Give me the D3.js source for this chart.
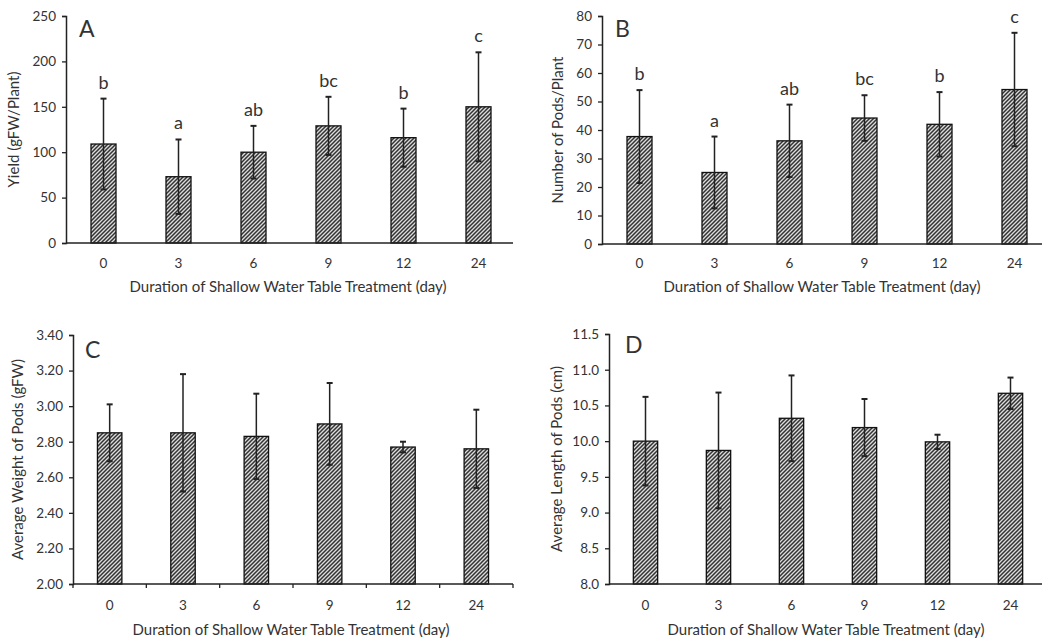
<!DOCTYPE html>
<html><head><meta charset="utf-8">
<script src="https://cdn.jsdelivr.net/npm/d3@7/dist/d3.min.js"></script>
<style>
body{margin:0;background:#fff;}
svg text{font-family:Lato,"Open Sans",sans-serif;fill:#333;}
</style></head>
<body>
<svg id="chart" width="1042" height="640"></svg>
<script>
// ---- data ----
const categories = ["0","3","6","9","12","24"];
const xTitle = "Duration of Shallow Water Table Treatment (day)";

const yieldMean = [109, 73, 100, 129, 116, 150];
const yieldErr  = [50, 41, 29, 32, 32, 60];
const yieldLetters = ["b","a","ab","bc","b","c"];
const yieldTicks = [0, 50, 100, 150, 200, 250];

const podsMean = [37.7, 25.1, 36.2, 44.2, 42.0, 54.2];
const podsErr  = [16.3, 12.6, 12.7, 8.0, 11.3, 19.9];
const podsLetters = ["b","a","ab","bc","b","c"];
const podsTicks = [0, 10, 20, 30, 40, 50, 60, 70, 80];

const weightMean = [2.85, 2.85, 2.83, 2.90, 2.77, 2.76];
const weightErr  = [0.16, 0.33, 0.24, 0.23, 0.03, 0.22];
const weightTicks = [2.00, 2.20, 2.40, 2.60, 2.80, 3.00, 3.20, 3.40];

const lengthMean = [10.00, 9.87, 10.32, 10.19, 9.99, 10.67];
const lengthErr  = [0.62, 0.81, 0.60, 0.40, 0.10, 0.22];
const lengthTicks = [8.0, 8.5, 9.0, 9.5, 10.0, 10.5, 11.0, 11.5];

// ---- layout ----
const panels = [
  {label:"A", mean:yieldMean, err:yieldErr, letters:yieldLetters, ticks:yieldTicks, fmt:d3.format("d"),
   yTitle:"Yield (gFW/Plant)", x0:66, x1:516, axisEnd:513, yTop:16, yBot:243, xTicks:false,
   labX:79, labY:37, yTitleX:14, xLabelY:268, xTitleY:292, xTitleCx:288},
  {label:"B", mean:podsMean, err:podsErr, letters:podsLetters, ticks:podsTicks, fmt:d3.format("d"),
   yTitle:"Number of Pods/Plant", x0:602, x1:1052, axisEnd:1042, yTop:16, yBot:244, xTicks:false,
   labX:615, labY:37, yTitleX:558, xLabelY:268, xTitleY:292, xTitleCx:822},
  {label:"C", mean:weightMean, err:weightErr, letters:null, ticks:weightTicks, fmt:d3.format(".2f"),
   yTitle:"Average Weight of Pods (gFW)", x0:73, x1:513, axisEnd:513, yTop:335, yBot:584, xTicks:true,
   labX:85, labY:358, yTitleX:18, xLabelY:610, xTitleY:635, xTitleCx:291},
  {label:"D", mean:lengthMean, err:lengthErr, letters:null, ticks:lengthTicks, fmt:d3.format(".1f"),
   yTitle:"Average Length of Pods (cm)", x0:609, x1:1047, axisEnd:1042, yTop:334, yBot:584, xTicks:false,
   labX:625, labY:353, yTitleX:557, xLabelY:610, xTitleY:635, xTitleCx:826}
];

const svg = d3.select("#chart");
const defs = svg.append("defs");
const pat = defs.append("pattern").attr("id","hatch").attr("patternUnits","userSpaceOnUse")
  .attr("width",4).attr("height",4);
pat.append("rect").attr("width",4).attr("height",4).attr("fill","#dcdcdc");
pat.append("path").attr("d","M-1,1 l2,-2 M0,4 l4,-4 M3,5 l2,-2")
  .attr("stroke","#333").attr("stroke-width",1.5);

panels.forEach(p => {
  const g = svg.append("g");
  const band = d3.scaleBand().domain(categories).range([p.x0, p.x1]);
  const y = d3.scaleLinear().domain([p.ticks[0], p.ticks[p.ticks.length-1]]).range([p.yBot, p.yTop]);

  // bars
  g.selectAll("rect.bar").data(p.mean).join("rect").attr("class","bar")
    .attr("x",(d,i)=>band(categories[i]) + band.bandwidth()/3)
    .attr("width", band.bandwidth()/3)
    .attr("y", d=>y(d)).attr("height", d=>y(p.ticks[0]) - y(d))
    .attr("fill","url(#hatch)").attr("stroke","#111").attr("stroke-width",1.3);

  // error bars
  const cx = i => band(categories[i]) + band.bandwidth()/2;
  p.mean.forEach((m,i) => {
    const top = y(m + p.err[i]), bot = y(m - p.err[i]);
    g.append("line").attr("x1",cx(i)).attr("x2",cx(i)).attr("y1",top).attr("y2",bot)
      .attr("stroke","#222").attr("stroke-width",1.5);
    g.append("line").attr("x1",cx(i)-3).attr("x2",cx(i)+3).attr("y1",top).attr("y2",top)
      .attr("stroke","#222").attr("stroke-width",2);
    g.append("line").attr("x1",cx(i)-3).attr("x2",cx(i)+3).attr("y1",bot).attr("y2",bot)
      .attr("stroke","#222").attr("stroke-width",2);
    if (p.letters) {
      g.append("text").attr("x",cx(i)).attr("y",top-10).attr("text-anchor","middle")
        .style("font-size","18px").text(p.letters[i]);
    }
  });

  // y axis
  const ya = g.append("g").attr("transform",`translate(${p.x0},0)`)
    .call(d3.axisLeft(y).tickValues(p.ticks).tickFormat(p.fmt).tickSizeInner(4).tickSizeOuter(4).tickPadding(6));
  ya.select(".domain").attr("stroke","#222").attr("stroke-width",1.5);
  ya.selectAll(".tick line").attr("stroke","#222").attr("stroke-width",1.3);
  ya.selectAll(".tick text").style("font-size","13.5px").attr("fill","#333").style("font-family","Lato");

  // x axis line
  g.append("line").attr("x1",p.x0).attr("x2",p.axisEnd).attr("y1",p.yBot).attr("y2",p.yBot)
    .attr("stroke","#222").attr("stroke-width",1.5);
  if (p.xTicks) {
    const bounds = categories.map(c=>band(c)).concat([p.x1]);
    g.selectAll("line.xt").data(bounds).join("line").attr("class","xt")
      .attr("x1",d=>d).attr("x2",d=>d).attr("y1",p.yBot).attr("y2",p.yBot+4)
      .attr("stroke","#222").attr("stroke-width",1.3);
  }
  // x labels
  g.selectAll("text.xl").data(categories).join("text").attr("class","xl")
    .attr("x",c=>band(c)+band.bandwidth()/2).attr("y",p.xLabelY)
    .attr("text-anchor","middle").style("font-size","13.5px").text(c=>c);
  g.append("text").attr("x",p.xTitleCx).attr("y",p.xTitleY).attr("text-anchor","middle")
    .style("font-size","15px").text(xTitle);
  // y title
  g.append("text").attr("transform",`translate(${p.yTitleX+5},${(p.yTop+p.yBot)/2}) rotate(-90)`)
    .attr("text-anchor","middle").style("font-size","15px").text(p.yTitle);
  // panel label
  g.append("text").attr("x",p.labX).attr("y",p.labY).style("font-size","23px").attr("fill","#111").text(p.label);
});
</script>
</body></html>
